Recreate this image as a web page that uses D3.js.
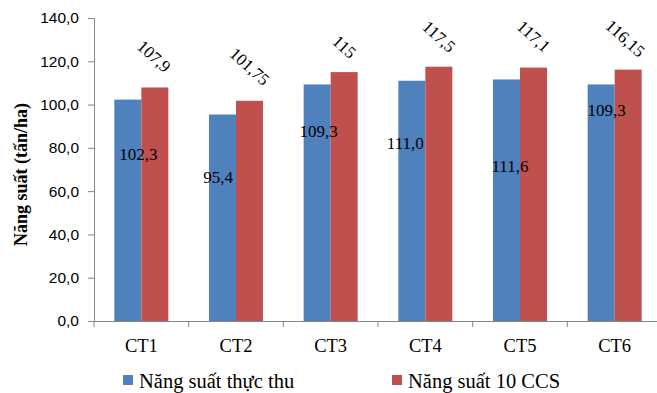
<!DOCTYPE html>
<html>
<head>
<meta charset="utf-8">
<script src="https://cdn.jsdelivr.net/npm/d3@7"></script>
<style>
  html, body { margin: 0; padding: 0; background: #fff; }
  svg { display: block; }
  .serif { font-family: "Liberation Serif", "Times New Roman", "DejaVu Serif", serif; }
  .sans { font-family: "Liberation Sans", Arial, sans-serif; }
</style>
</head>
<body>
<svg id="chart" width="657" height="393"></svg>
<script>
// ---- data ----
const categories = ["CT1", "CT2", "CT3", "CT4", "CT5", "CT6"];
const actualYield = [102.3, 95.4, 109.3, 111.0, 111.6, 109.3];
const ccsYield = [107.9, 101.75, 115, 117.5, 117.1, 116.15];
const actualLabels = ["102,3", "95,4", "109,3", "111,0", "111,6", "109,3"];
const ccsLabels = ["107,9", "101,75", "115", "117,5", "117,1", "116,15"];
const yTicks = [0, 20, 40, 60, 80, 100, 120, 140];
const seriesNames = ["Năng suất thực thu", "Năng suất 10 CCS"];
const yTitle = "Năng suất (tấn/ha)";

// ---- layout (manual label placement, like the original) ----
const blueLabelOffset = [[-3, 55], [-18, 63], [-12, 47], [-20, 63], [-10, 87], [-8, 26]];
const redLabelOffset = [[-1, -31], [0, -34], [0, -25], [0, -30], [0, -31], [-3, -31]];

const colors = ["#4F81BD", "#C0504D"];
const svg = d3.select("#chart");
const mLeft = 94, mRight = 662, mTop = 18, mBottom = 321;

const x = d3.scaleBand().domain(categories).range([mLeft, mRight]).paddingInner(0).paddingOuter(0);
const y = d3.scaleLinear().domain([0, 140]).range([mBottom, mTop]);
const barW = 27;

// axes
const yAxis = d3.axisLeft(y).tickValues(yTicks).tickSize(6).tickPadding(9)
  .tickFormat(d => d3.format(".1f")(d).replace(".", ","));
const gy = svg.append("g").attr("transform", `translate(${mLeft},0)`).call(yAxis)
  .attr("font-family", null).attr("font-size", null);
gy.select(".domain").attr("stroke", "#868686");
gy.selectAll(".tick line").attr("stroke", "#868686");
gy.selectAll(".tick text").attr("class", "sans")
  .style("font-size", "15.5px").attr("fill", "#000");

const xAxis = d3.axisBottom(x).tickSize(0).tickPadding(18);
const gx = svg.append("g").attr("transform", `translate(0,${mBottom})`).call(xAxis)
  .attr("font-family", null).attr("font-size", null);
gx.select(".domain").attr("stroke", "#868686");
gx.selectAll(".tick text").attr("class", "serif")
  .style("font-size", "18.5px").attr("fill", "#000");
// category separator ticks
gx.selectAll(".sep").data(categories).enter().append("line")
  .attr("x1", d => x(d) + x.bandwidth()).attr("x2", d => x(d) + x.bandwidth())
  .attr("y1", 0).attr("y2", 6).attr("stroke", "#868686");
gx.append("line").attr("x1", mLeft).attr("x2", mLeft).attr("y1", 0).attr("y2", 6).attr("stroke", "#868686");

// bars
const g = svg.append("g");
[actualYield, ccsYield].forEach((vals, s) => {
  g.selectAll(".bar" + s).data(vals).enter().append("rect")
    .attr("x", (d, i) => x(categories[i]) + x.bandwidth() / 2 - barW + s * barW)
    .attr("y", d => y(d))
    .attr("width", barW)
    .attr("height", d => mBottom - y(d))
    .attr("fill", colors[s]);
});

// blue labels
g.selectAll(".lb").data(actualYield).enter().append("text")
  .attr("class", "serif")
  .attr("x", (d, i) => x(categories[i]) + x.bandwidth() / 2 + blueLabelOffset[i][0])
  .attr("y", (d, i) => y(d) + blueLabelOffset[i][1])
  .attr("text-anchor", "middle").attr("dominant-baseline", "central")
  .style("font-size", "17px")
  .text((d, i) => actualLabels[i]);

// red labels (rotated)
g.selectAll(".lr").data(ccsYield).enter().append("text")
  .attr("class", "serif")
  .attr("transform", (d, i) => {
    const cx = x(categories[i]) + x.bandwidth() / 2 + barW / 2 + redLabelOffset[i][0];
    const cy = y(d) + redLabelOffset[i][1];
    return `translate(${cx},${cy}) rotate(42)`;
  })
  .attr("text-anchor", "middle").attr("dominant-baseline", "central")
  .style("font-size", "17px")
  .text((d, i) => ccsLabels[i]);

// y title
svg.append("text")
  .attr("class", "serif")
  .attr("transform", `translate(21,${(mTop + mBottom) / 2 + 5}) rotate(-90)`)
  .attr("text-anchor", "middle").attr("dominant-baseline", "central")
  .style("font-weight", "bold").style("font-size", "18px").text(yTitle);

// legend
const legendX = [123, 392];
seriesNames.forEach((name, s) => {
  svg.append("rect").attr("x", legendX[s]).attr("y", 375).attr("width", 10).attr("height", 10).attr("fill", colors[s]);
  svg.append("text").attr("class", "serif").attr("x", legendX[s] + 16).attr("y", 388)
    .style("font-size", "20.5px")
    .text(name);
});
</script>
</body>
</html>
